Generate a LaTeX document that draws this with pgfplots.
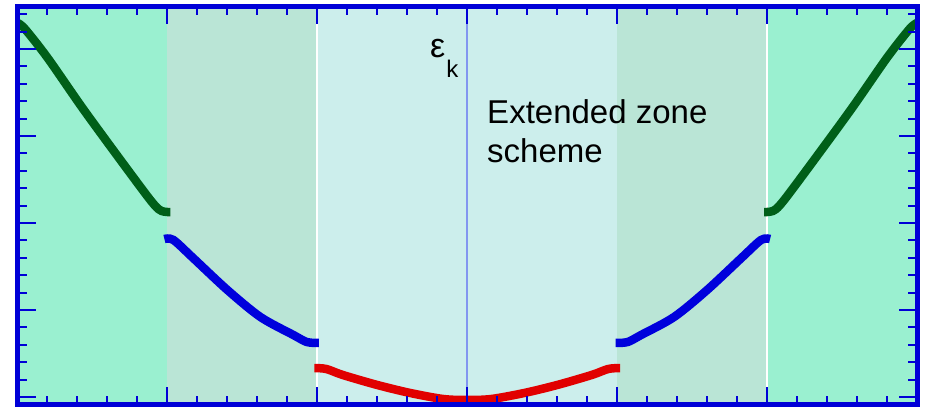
\documentclass[border=0pt]{standalone}
\usepackage{fontspec}
\setmainfont{Liberation Sans}
\usepackage{pgfplots}
\pgfplotsset{compat=1.18}

\definecolor{axblue}{RGB}{0,0,215}
\definecolor{zoneA}{RGB}{154,240,208}
\definecolor{zoneB}{RGB}{186,229,214}
\definecolor{zoneC}{RGB}{204,238,236}
\definecolor{bandgreen}{RGB}{0,95,25}
\definecolor{bandblue}{RGB}{0,0,220}
\definecolor{bandred}{RGB}{225,0,0}
\definecolor{midline}{RGB}{130,150,240}

\begin{document}
\begin{tikzpicture}
\begin{axis}[
  at={(0,0)}, anchor=south west,
  scale only axis, width=899.5pt, height=398pt,
  xmin=-3, xmax=3, ymin=-0.0862, ymax=4.4885,
  axis on top, clip=false,
  axis line style={axblue, line width=5pt},
  xtick={-3,...,3}, ytick={0,...,4},
  minor xtick={-2.8,-2.6,...,2.9},
  minor ytick={0.2,0.4,...,4.45},
  xticklabels={}, yticklabels={},
  xtick pos=both, ytick pos=both,
  tick align=inside,
  major tick length=18pt, minor tick length=9pt,
  every tick/.style={axblue, line width=2pt},
]
% Brillouin zones: first (centre), second, third
\addplot[draw=none, fill=zoneA] coordinates {(-3,-0.0862) (-2,-0.0862) (-2,4.4885) (-3,4.4885)} -- cycle;
\addplot[draw=none, fill=zoneB] coordinates {(-2,-0.0862) (-1,-0.0862) (-1,4.4885) (-2,4.4885)} -- cycle;
\addplot[draw=none, fill=zoneC] coordinates {(-1,-0.0862) (1,-0.0862) (1,4.4885) (-1,4.4885)} -- cycle;
\addplot[draw=none, fill=zoneB] coordinates {(1,-0.0862) (2,-0.0862) (2,4.4885) (1,4.4885)} -- cycle;
\addplot[draw=none, fill=zoneA] coordinates {(2,-0.0862) (3,-0.0862) (3,4.4885) (2,4.4885)} -- cycle;
\addplot[white, line width=2pt] coordinates {(-1,-0.0862) (-1,4.4885)};
\addplot[white, line width=2pt] coordinates {(2,-0.0862) (2,4.4885)};
\addplot[midline, line width=2pt] coordinates {(0,-0.0862) (0,4.4885)};

% third band
\addplot[bandgreen, line width=8.5pt, smooth, tension=0.5] coordinates {
  (-3.00,4.30) (-2.95,4.23) (-2.80,3.90) (-2.57,3.33) (-2.35,2.81)
  (-2.13,2.30) (-2.06,2.16) (-2.02,2.13) (-1.98,2.125)};
\addplot[bandgreen, line width=8.5pt, smooth, tension=0.5] coordinates {
  (1.98,2.125) (2.02,2.13) (2.06,2.16) (2.13,2.30) (2.35,2.81)
  (2.57,3.33) (2.80,3.90) (2.95,4.23) (3.00,4.30)};
% second band
\addplot[bandblue, line width=8.5pt, smooth, tension=0.5] coordinates {
  (-2.02,1.816) (-1.96,1.805) (-1.83,1.60) (-1.60,1.23) (-1.38,0.92)
  (-1.16,0.713) (-1.07,0.632) (-0.99,0.621)};
\addplot[bandblue, line width=8.5pt, smooth, tension=0.5] coordinates {
  (0.99,0.621) (1.07,0.632) (1.16,0.713) (1.38,0.92) (1.60,1.23)
  (1.83,1.60) (1.96,1.805) (2.02,1.816)};
% first band
\addplot[bandred, line width=8.5pt, smooth, tension=0.5] coordinates {
  (-1.02,0.333) (-0.94,0.322) (-0.83,0.253) (-0.60,0.138) (-0.38,0.046)
  (-0.16,-0.023) (0,-0.034) (0.16,-0.023) (0.38,0.046) (0.60,0.138)
  (0.83,0.253) (0.94,0.322) (1.02,0.333)};

\node[anchor=base west, inner sep=0pt, font=\fontsize{34}{40}\selectfont]
  at (axis cs:-0.2485,3.908) {ε};
\node[anchor=base west, inner sep=0pt, font=\fontsize{24}{28}\selectfont]
  at (axis cs:-0.140,3.678) {k};
\node[anchor=base west, inner sep=0pt, align=left,
  font=\fontsize{33}{39}\selectfont]
  at (axis cs:0.132,2.701) {Extended zone\\scheme};
\end{axis}
\pgfresetboundingbox
\path (-17.5pt,-2.5pt) rectangle (907.5pt,404.5pt);
\end{tikzpicture}
\end{document}
